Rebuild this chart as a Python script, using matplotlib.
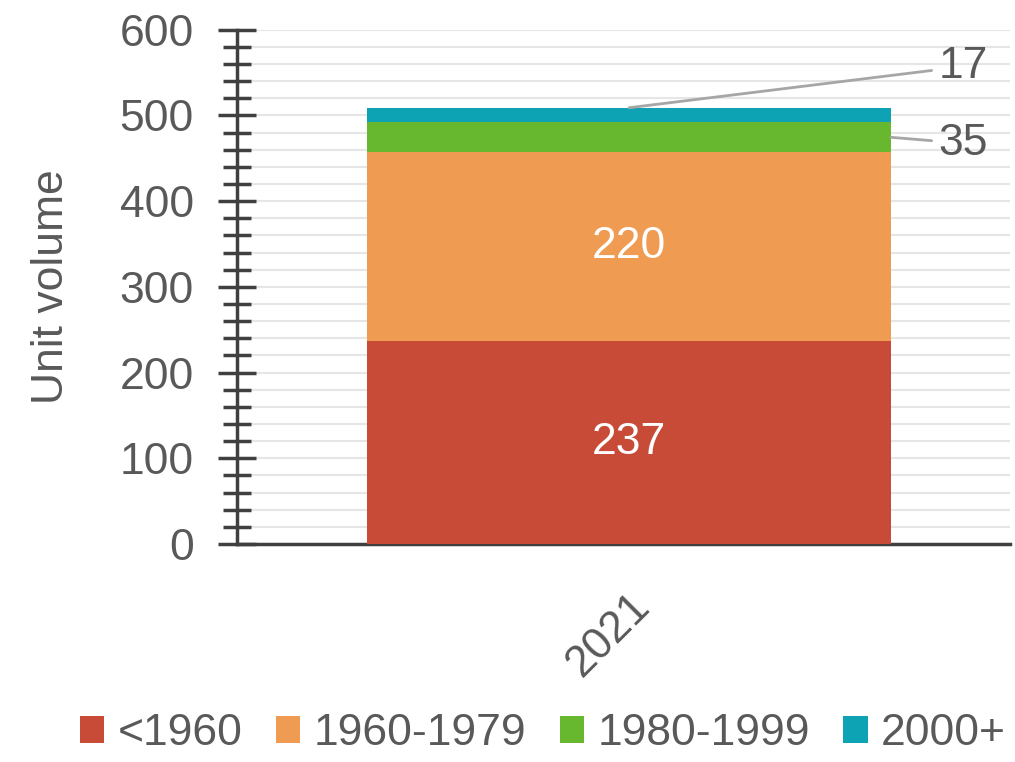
import numpy as np
import matplotlib.pyplot as plt
from matplotlib.ticker import MultipleLocator

# Data
years = ["2021"]
series = ["<1960", "1960-1979", "1980-1999", "2000+"]
values = [237, 220, 35, 17]
colors = ["#c84b38", "#ef9c52", "#68b82f", "#0da3b5"]

plt.rcParams['font.family'] = ['Liberation Sans', 'DejaVu Sans']
txt = "#595959"
fs = 32

fig = plt.figure(figsize=(10.15, 7.62), dpi=100)
ax = fig.add_axes([0.2335, 0.286, 0.762, 0.675])

x = np.arange(len(years))
bottom = 0
bars = []
for name, v, c in zip(series, values, colors):
    b = ax.bar(x, [v], bottom=bottom, width=0.677, color=c, label=name, zorder=3)
    bars.append((b[0], bottom, v))
    bottom += v

# Labels inside the two big segments
for rect, b0, v in bars[:2]:
    ax.text(rect.get_x() + rect.get_width() / 2, b0 + v / 2, str(v),
            ha='center', va='center', color='white', fontsize=fs, zorder=4)

# Leader lines for the small ones
r, b0, v = bars[2]
ax.annotate(str(v), xy=(r.get_x() + r.get_width(), b0 + v / 2),
            xytext=(0.4, b0 + v / 2 - 7), ha='left', va='center',
            color=txt, fontsize=fs,
            arrowprops=dict(arrowstyle='-', color='#a6a6a6', lw=2,
                            shrinkA=3, shrinkB=0))
r, b0, v = bars[3]
ax.annotate(str(v), xy=(x[0], b0 + v), xytext=(0.4, 557),
            ha='left', va='center', color=txt, fontsize=fs,
            arrowprops=dict(arrowstyle='-', color='#a6a6a6', lw=2,
                            shrinkA=3, shrinkB=0))

ax.set_xlim(-0.507, 0.493)
ax.set_ylim(0, 600)
ax.set_xticks(x)
ax.set_xticklabels(years, rotation=45, fontsize=fs, color=txt,
                   ha='right', rotation_mode='anchor')
ax.yaxis.set_major_locator(MultipleLocator(100))
ax.yaxis.set_minor_locator(MultipleLocator(20))
ax.tick_params(axis='y', which='major', direction='inout', length=28, width=2.5,
               color='#404040', labelsize=fs, labelcolor=txt, pad=17)
ax.tick_params(axis='y', which='minor', direction='inout', length=20, width=2.5,
               color='#404040')
ax.tick_params(axis='x', length=0, pad=30)
ax.set_ylabel("Unit volume", fontsize=fs, color=txt, labelpad=34)

ax.grid(axis='y', which='both', color='#e6e6e6', lw=1.5, zorder=0)
ax.set_axisbelow(True)
for s in ['top', 'right']:
    ax.spines[s].set_visible(False)
ax.spines['left'].set_color('#404040')
ax.spines['left'].set_linewidth(2.5)
ax.spines['bottom'].set_color('#404040')
ax.spines['bottom'].set_linewidth(2.5)

leg = fig.legend(loc='lower center', bbox_to_anchor=(0.535, -0.042), ncol=4,
                 frameon=False, fontsize=fs, handlelength=0.55, handleheight=0.55,
                 handletextpad=0.3, columnspacing=0.75, labelcolor=txt)

fig.savefig("out.png", dpi=100)
